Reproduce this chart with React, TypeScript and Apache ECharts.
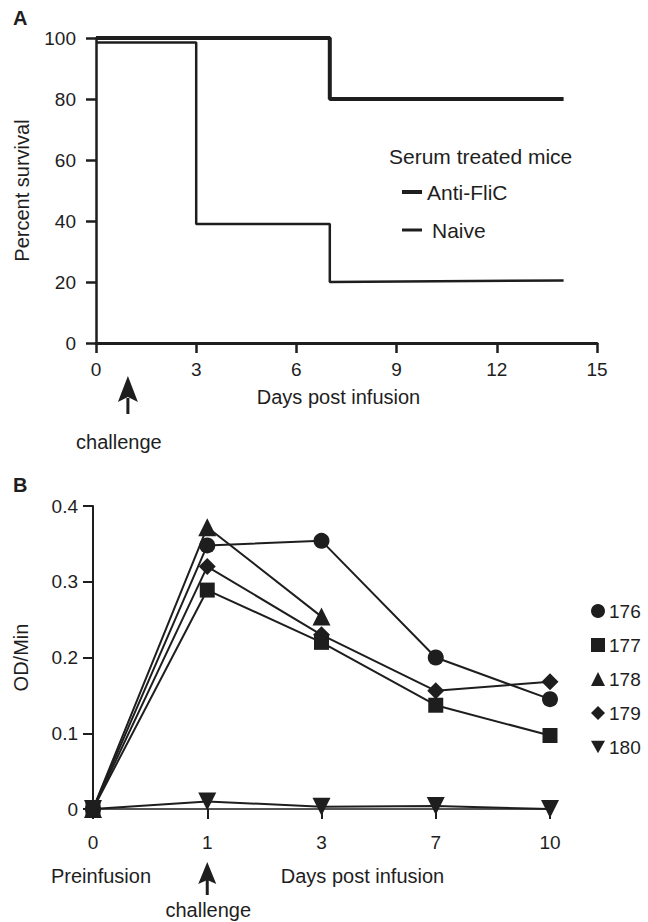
import React, { useEffect, useRef } from 'react';
import * as echarts from 'echarts';

// ---------- Panel A: survival ----------
const antiFliCDays = [0, 7, 7, 14];
const antiFliCSurvival = [100, 100, 80, 80];
const naiveDays = [0, 3, 3, 7, 7, 14];
const naiveSurvival = [98.5, 98.5, 39, 39, 20, 20.5];
const survivalLegend = ['Anti-FliC', 'Naive'];

// ---------- Panel B: OD/Min ----------
const odDays = ['0', '1', '3', '7', '10'];
const mouseIds = ['176', '177', '178', '179', '180'];
const od176 = [0, 0.348, 0.354, 0.2, 0.145];
const od177 = [0, 0.289, 0.22, 0.137, 0.097];
const od178 = [0, 0.372, 0.254, null, null];
const od179 = [0, 0.32, 0.23, 0.156, 0.168];
const od180 = [0, 0.01, 0.003, 0.004, 0];
const odValues = [od176, od177, od178, od179, od180];

const FONT = '"Liberation Sans", Arial, Helvetica, sans-serif';
const INK = '#1e1e1e';
const DOWN_TRIANGLE = 'path://M0,0 L20,0 L10,18 Z';

export default function App() {
  const ref = useRef<HTMLDivElement>(null);

  useEffect(() => {
    if (!ref.current) return;
    const chart = echarts.init(ref.current, null, { renderer: 'svg' });

    const symbols = ['circle', 'rect', 'triangle', 'diamond', 'triangle'];
    const legendIcons = ['circle', 'rect', 'triangle', 'diamond', DOWN_TRIANGLE];
    const sizes = [16, 15, 18, 17, 18];
    const rotates = [0, 0, 0, 0, 180];

    const option: any = {
      animation: false,
      backgroundColor: '#ffffff',
      textStyle: { fontFamily: FONT, color: INK },
      grid: [
        { left: 96, top: 38, width: 501, height: 305, containLabel: false, outerBoundsMode: 'none' },
        { left: 93, top: 506, width: 457, height: 303, containLabel: false, outerBoundsMode: 'none' },
      ],
      xAxis: [
        {
          gridIndex: 0,
          type: 'value',
          min: 0,
          max: 15,
          interval: 3,
          name: 'Days post infusion',
          nameLocation: 'middle',
          nameGap: 44,
          nameTextStyle: { fontSize: 20, color: INK, fontFamily: FONT, padding: [0, 16, 0, 0] },
          axisLine: { show: true, onZero: false, lineStyle: { color: INK, width: 3 } },
          axisTick: { show: true, length: 10, lineStyle: { color: INK, width: 2.5 } },
          axisLabel: { fontSize: 19, color: INK, margin: 17, fontFamily: FONT },
          splitLine: { show: false },
        },
        {
          gridIndex: 1,
          type: 'category',
          data: odDays,
          boundaryGap: false,
          name: 'Days post infusion',
          nameLocation: 'middle',
          nameGap: 57,
          nameTextStyle: { fontSize: 20, color: INK, fontFamily: FONT, padding: [0, 0, 0, 82] },
          axisLine: { show: true, onZero: false, lineStyle: { color: '#555', width: 2 } },
          axisTick: { show: true, length: 10, alignWithLabel: true, lineStyle: { color: INK, width: 2 } },
          axisLabel: { fontSize: 19, color: INK, margin: 24, interval: 0, fontFamily: FONT },
          splitLine: { show: false },
        },
      ],
      yAxis: [
        {
          gridIndex: 0,
          type: 'value',
          min: 0,
          max: 100,
          interval: 20,
          name: 'Percent survival',
          nameLocation: 'middle',
          nameGap: 64,
          nameTextStyle: { fontSize: 20, color: INK, fontFamily: FONT },
          axisLine: { show: true, lineStyle: { color: INK, width: 2.5 } },
          axisTick: { show: true, length: 10, lineStyle: { color: INK, width: 2.5 } },
          axisLabel: { fontSize: 19, color: INK, margin: 20, fontFamily: FONT },
          splitLine: { show: false },
        },
        {
          gridIndex: 1,
          type: 'value',
          min: 0,
          max: 0.4,
          interval: 0.1,
          name: 'OD/Min',
          nameLocation: 'middle',
          nameGap: 62,
          nameTextStyle: { fontSize: 20, color: INK, fontFamily: FONT },
          axisLine: { show: true, lineStyle: { color: INK, width: 2 } },
          axisTick: { show: true, length: 10, lineStyle: { color: INK, width: 2 } },
          axisLabel: {
            fontSize: 19,
            color: INK,
            margin: 15,
            fontFamily: FONT,
            formatter: (v: number) => (v === 0 ? '0' : v.toFixed(1)),
          },
          splitLine: { show: false },
        },
      ],
      legend: [
        {
          data: [{ name: survivalLegend[0], icon: 'rect' }],
          orient: 'vertical',
          left: 397,
          top: 176,
          itemWidth: 20,
          itemHeight: 4,
          itemGap: 10,
          selectedMode: false,
          textStyle: { fontSize: 21, color: INK, fontFamily: FONT, lineHeight: 22 },
        },
        {
          data: [{ name: survivalLegend[1], icon: 'rect' }],
          orient: 'vertical',
          left: 397,
          top: 214,
          itemWidth: 20,
          itemHeight: 3,
          itemGap: 10,
          selectedMode: false,
          textStyle: { fontSize: 21, color: INK, fontFamily: FONT, lineHeight: 22, padding: [0, 0, 0, 5] },
        },
        {
          data: mouseIds.map((id, i) => ({ name: id, icon: legendIcons[i] })),
          orient: 'vertical',
          left: 591,
          top: 600,
          itemWidth: 14,
          itemHeight: 14,
          itemGap: 12,
          padding: 0,
          itemStyle: { borderWidth: 0 },
          selectedMode: false,
          textStyle: { fontSize: 19, color: INK, fontFamily: FONT, lineHeight: 22, padding: [0, 0, 0, -1] },
        },
      ],
      series: [
        {
          name: survivalLegend[0],
          type: 'line',
          xAxisIndex: 0,
          yAxisIndex: 0,
          data: antiFliCDays.map((d, i) => [d, antiFliCSurvival[i]]),
          symbol: 'none',
          lineStyle: { color: INK, width: 4 },
          itemStyle: { color: INK },
        },
        {
          name: survivalLegend[1],
          type: 'line',
          xAxisIndex: 0,
          yAxisIndex: 0,
          data: naiveDays.map((d, i) => [d, naiveSurvival[i]]),
          symbol: 'none',
          lineStyle: { color: INK, width: 2.5 },
          itemStyle: { color: INK },
        },
        ...mouseIds.map((id, i) => ({
          name: id,
          type: 'line',
          xAxisIndex: 1,
          yAxisIndex: 1,
          data: odValues[i],
          symbol: symbols[i],
          symbolSize: sizes[i],
          symbolRotate: rotates[i],
          showAllSymbol: true,
          connectNulls: false,
          lineStyle: { color: INK, width: 2 },
          itemStyle: { color: INK, borderWidth: 0 },
          z: 3 + i,
        })),
      ],
    };

    chart.setOption(option);

    const pA = chart.convertToPixel({ xAxisIndex: 0, yAxisIndex: 0 }, [1, 0]) as number[];
    const pB = chart.convertToPixel({ xAxisIndex: 1, yAxisIndex: 1 }, [1, 0]) as number[];
    const ax = pA[0] - 1.5;
    const bx = pB[0];

    chart.setOption({
      graphic: {
        elements: [
          { type: 'text', left: 13, top: 8, style: { text: 'A', fontSize: 20, fontWeight: 'bold', fill: INK, fontFamily: FONT } },
          { type: 'text', left: 13, top: 475, style: { text: 'B', fontSize: 20, fontWeight: 'bold', fill: INK, fontFamily: FONT } },
          {
            type: 'text',
            left: 389,
            top: 146,
            style: { text: 'Serum treated mice', fontSize: 21, fill: INK, fontFamily: FONT },
          },
          // arrow A
          {
            type: 'polygon',
            shape: { points: [[ax, 376], [ax + 10, 402], [ax, 397], [ax - 10, 402]] },
            style: { fill: INK },
          },
          { type: 'line', shape: { x1: ax, y1: 398, x2: ax, y2: 414 }, style: { stroke: INK, lineWidth: 3 } },
          {
            type: 'text',
            x: ax - 9,
            y: 442,
            style: { text: 'challenge', fontSize: 20, fill: INK, fontFamily: FONT, align: 'center', verticalAlign: 'middle' },
          },
          // arrow B
          {
            type: 'polygon',
            shape: { points: [[bx, 862], [bx + 9, 884], [bx, 880], [bx - 9, 884]] },
            style: { fill: INK },
          },
          { type: 'line', shape: { x1: bx, y1: 880, x2: bx, y2: 895 }, style: { stroke: INK, lineWidth: 3 } },
          {
            type: 'text',
            x: bx + 1,
            y: 910,
            style: { text: 'challenge', fontSize: 20, fill: INK, fontFamily: FONT, align: 'center', verticalAlign: 'middle' },
          },
          {
            type: 'text',
            x: 101,
            y: 876,
            style: { text: 'Preinfusion', fontSize: 20, fill: INK, fontFamily: FONT, align: 'center', verticalAlign: 'middle' },
          },
        ],
      },
    });

    return () => chart.dispose();
  }, []);

  return (
    <div
      ref={ref}
      style={{ position: 'fixed', left: 0, top: 0, width: 648, height: 922, background: '#fff' }}
    />
  );
}
